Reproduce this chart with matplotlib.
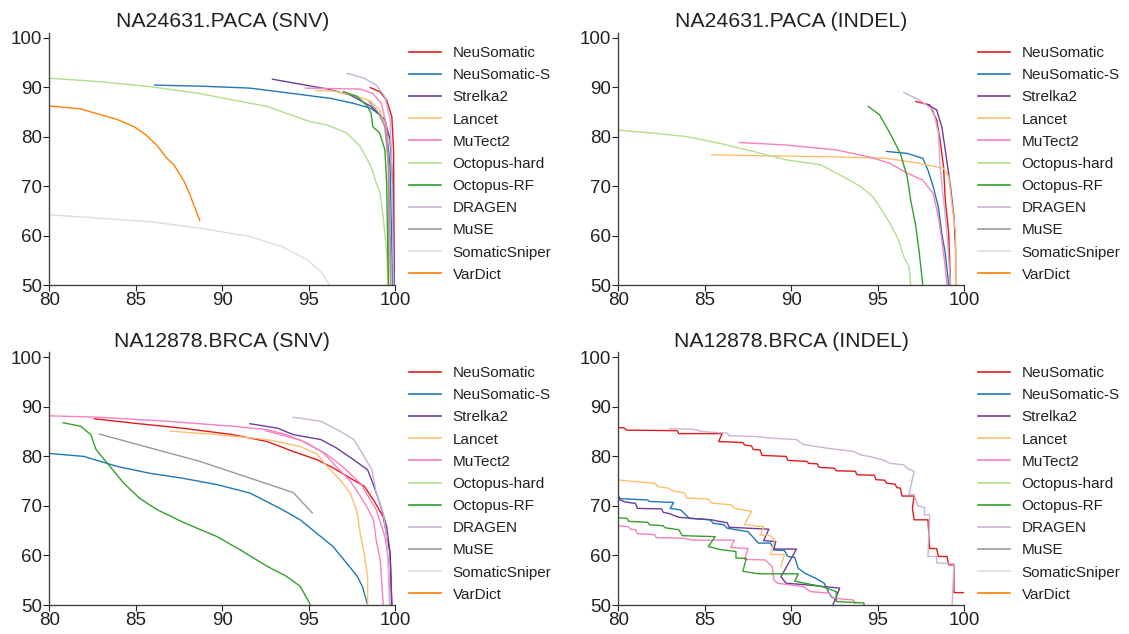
import matplotlib
matplotlib.use("Agg")
import matplotlib.pyplot as plt

plt.rcParams['font.family'] = ['Liberation Sans', 'DejaVu Sans']

methods = ["NeuSomatic", "NeuSomatic-S", "Strelka2", "Lancet", "MuTect2",
           "Octopus-hard", "Octopus-RF", "DRAGEN", "MuSE", "SomaticSniper", "VarDict"]
colors = {"NeuSomatic": "#e31a1c", "NeuSomatic-S": "#1f78b4", "Strelka2": "#6a3d9a",
          "Lancet": "#fdbf6f", "MuTect2": "#f781bf", "Octopus-hard": "#b2df8a",
          "Octopus-RF": "#33a02c", "DRAGEN": "#cab2d6", "MuSE": "#999999",
          "SomaticSniper": "#dddddd", "VarDict": "#ff7f00"}

titles = ["NA24631.PACA (SNV)", "NA24631.PACA (INDEL)",
          "NA12878.BRCA (SNV)", "NA12878.BRCA (INDEL)"]
xticks = [80, 85, 90, 95, 100]
yticks = [50, 60, 70, 80, 90, 100]

# ---------------- Panel 1: NA24631.PACA (SNV) ----------------
p1_neusomatic_x = [98.55, 99.1, 99.5, 99.8, 99.9, 99.94]
p1_neusomatic_y = [89.9, 89.1, 87.4, 84.0, 77.3, 50.0]
p1_neusomatic_s_x = [86.1, 88.7, 91.6, 94.1, 96.3, 97.6, 98.6, 99.1, 99.5, 99.7, 99.85]
p1_neusomatic_s_y = [90.4, 90.2, 89.8, 88.7, 87.7, 86.7, 85.7, 84.4, 81.3, 73.9, 50.0]
p1_strelka2_x = [92.9, 94.5, 96.1, 97.4, 98.6, 99.4, 99.7, 99.85, 99.93]
p1_strelka2_y = [91.6, 90.6, 89.6, 88.4, 86.1, 83.4, 79.3, 70.6, 50.0]
p1_lancet_x = [95.4, 96.4, 97.6, 98.6, 99.1, 99.4, 99.6, 99.7]
p1_lancet_y = [89.3, 89.2, 88.4, 87.1, 85.4, 82.0, 73.9, 50.0]
p1_mutect2_x = [94.8, 96.4, 98.0, 98.7, 99.2, 99.5, 99.6, 99.6]
p1_mutect2_y = [89.8, 89.7, 89.6, 88.7, 86.7, 82.0, 73.9, 50.0]
p1_octhard_x = [80.0, 82.9, 85.8, 88.7, 90.6, 92.6, 93.7, 95.1, 96.1, 97.2, 97.97,
                98.6, 98.9, 99.1, 99.3, 99.5, 99.6]
p1_octhard_y = [91.8, 91.1, 90.1, 88.7, 87.4, 86.1, 84.7, 83.0, 82.3, 80.7, 78.0,
                73.9, 70.6, 68.9, 63.8, 56.4, 50.0]
p1_octrf_x = [97.0, 97.8, 98.4, 98.6, 98.7, 99.1, 99.4, 99.5, 99.6]
p1_octrf_y = [89.1, 88.1, 86.1, 84.7, 82.0, 80.7, 77.3, 70.6, 50.0]
p1_dragen_x = [97.2, 98.2, 98.9, 99.4, 99.7, 99.8, 99.9]
p1_dragen_y = [92.8, 91.8, 90.4, 88.1, 83.4, 73.9, 50.0]
p1_muse_x = [98.5, 99.0, 99.4, 99.6, 99.7, 99.75]
p1_muse_y = [87.0, 85.0, 82.0, 75.0, 60.0, 50.0]
p1_sniper_x = [80.0, 82.9, 85.8, 88.7, 91.6, 93.5, 94.9, 95.7, 96.2]
p1_sniper_y = [64.2, 63.5, 62.8, 61.5, 59.8, 57.7, 55.1, 52.7, 50.0]
p1_vardict_x = [80.0, 81.8, 82.9, 83.9, 84.9, 85.6, 86.2, 86.8, 87.2, 87.8, 88.1, 88.7]
p1_vardict_y = [86.2, 85.6, 84.5, 83.5, 82.0, 80.3, 78.3, 75.6, 74.3, 70.9, 68.5, 63.0]

# ---------------- Panel 2: NA24631.PACA (INDEL) ----------------
p2_neusomatic_x = [97.2, 98.0, 98.4, 98.6, 98.8, 98.9, 99.1, 99.2]
p2_neusomatic_y = [87.1, 86.4, 83.4, 79.3, 73.9, 67.2, 60.4, 50.0]
p2_neusomatic_s_x = [95.5, 96.7, 97.6, 97.9, 98.2, 98.5, 98.7, 98.9, 99.1]
p2_neusomatic_s_y = [77.0, 76.6, 75.6, 73.2, 69.9, 65.8, 60.4, 56.4, 50.0]
p2_strelka2_x = [97.9, 98.4, 98.7, 98.9, 99.2, 99.4, 99.5, 99.5]
p2_strelka2_y = [86.4, 85.4, 82.0, 77.3, 69.9, 63.8, 57.1, 50.0]
p2_lancet_x = [85.4, 88.8, 92.6, 95.5, 97.4, 98.8, 99.1, 99.3, 99.5, 99.5]
p2_lancet_y = [76.3, 76.1, 75.9, 75.6, 74.6, 73.6, 71.9, 65.8, 60.4, 50.0]
p2_mutect2_x = [87.0, 89.7, 92.6, 94.5, 95.7, 96.7, 97.6, 98.2, 98.5, 98.7, 98.9, 99.0]
p2_mutect2_y = [78.8, 78.3, 77.3, 75.9, 74.6, 72.6, 71.2, 68.5, 63.8, 59.1, 53.7, 50.0]
p2_octhard_x = [80.0, 82.0, 83.95, 85.9, 87.8, 89.7, 91.7, 93.0, 94.0, 94.7, 95.1,
                95.7, 96.2, 96.5, 96.8, 96.9]
p2_octhard_y = [81.3, 80.7, 80.0, 78.6, 77.0, 75.3, 74.3, 71.9, 69.9, 67.9, 65.8,
                62.5, 59.1, 55.7, 53.7, 50.0]
p2_octrf_x = [94.45, 95.1, 95.7, 96.3, 96.7, 96.9, 97.2, 97.4, 97.6]
p2_octrf_y = [86.1, 84.4, 80.7, 76.6, 71.9, 67.2, 61.8, 56.4, 50.0]
p2_dragen_x = [96.5, 97.4, 98.2, 98.5, 98.6, 98.8, 99.0, 99.2]
p2_dragen_y = [88.9, 87.4, 85.4, 80.7, 73.9, 67.2, 60.4, 50.0]

# ---------------- Panel 3: NA12878.BRCA (SNV) ----------------
p3_neusomatic_x = [82.6, 84.9, 87.7, 90.6, 92.6, 94.1, 95.5, 96.4, 97.4, 98.2, 98.74,
                   99.3, 99.7, 99.8]
p3_neusomatic_y = [87.6, 86.7, 85.7, 84.4, 83.0, 81.0, 79.3, 77.7, 75.6, 74.0, 71.2,
                   67.8, 60.5, 50.0]
p3_neusomatic_s_x = [80.0, 82.0, 83.9, 85.8, 87.7, 89.7, 91.6, 93.5, 94.5, 95.45,
                     96.4, 97.2, 97.8, 98.1, 98.4]
p3_neusomatic_s_y = [80.6, 80.0, 78.0, 76.6, 75.6, 74.3, 72.6, 69.2, 67.2, 64.5,
                     61.8, 58.4, 55.8, 53.7, 50.0]
p3_strelka2_x = [91.6, 93.2, 94.1, 95.7, 96.6, 97.6, 98.4, 98.7, 99.1, 99.5, 99.7, 99.8]
p3_strelka2_y = [86.6, 85.7, 84.4, 83.4, 81.7, 79.3, 77.3, 74.6, 70.6, 65.9, 60.4, 50.0]
p3_lancet_x = [87.0, 89.7, 92.6, 94.5, 95.5, 96.05, 96.8, 97.4, 97.8, 97.97, 98.2, 98.4, 98.4]
p3_lancet_y = [85.1, 84.4, 83.4, 82.0, 80.4, 78.0, 75.3, 72.6, 68.6, 64.5, 60.4, 55.7, 50.0]
p3_mutect2_x = [80.0, 82.9, 86.8, 90.6, 92.6, 93.7, 94.9, 95.85, 96.6, 97.4, 97.97,
                98.4, 98.74, 98.9, 99.13, 99.3]
p3_mutect2_y = [88.2, 87.9, 87.1, 86.1, 85.4, 84.4, 82.7, 80.7, 77.9, 75.0, 72.0,
                69.5, 67.2, 63.0, 59.1, 50.0]
p3_mutect2b_x = [92.5, 94.5, 96.0, 97.0, 98.0, 98.9, 99.4, 99.6, 99.7]
p3_mutect2b_y = [85.2, 83.3, 80.5, 77.8, 74.5, 69.2, 63.8, 59.1, 50.0]
p3_octrf_x = [80.8, 81.8, 82.4, 82.7, 83.5, 84.3, 85.2, 86.2, 87.8, 89.7, 91.0, 92.6,
              93.7, 94.5, 95.1]
p3_octrf_y = [86.8, 86.1, 84.4, 81.4, 78.0, 74.6, 71.6, 69.3, 66.6, 63.8, 61.2, 57.8,
              55.8, 53.8, 50.0]
p3_dragen_x = [94.1, 95.7, 96.8, 97.6, 98.2, 98.65, 98.9, 99.3, 99.5, 99.6, 99.67]
p3_dragen_y = [87.9, 87.1, 85.1, 83.4, 80.0, 77.3, 72.6, 68.6, 63.9, 57.1, 50.0]
p3_muse_x = [82.9, 88.7, 94.1, 95.2]
p3_muse_y = [84.5, 79.0, 72.7, 68.6]

# ---------------- Panel 4: NA12878.BRCA (INDEL) ----------------
p4_neusomatic_x = [80, 80.3, 80.5, 83.4, 83.5, 86.0, 85.8, 87.2, 87.3, 87.7, 87.8, 88.2,
                   88.3, 89.7, 89.8, 90.9, 91.0, 91.5, 91.6, 92.5, 92.6, 93.7, 93.8,
                   94.8, 94.9, 95.4, 95.5, 96.0, 96.1, 96.3, 96.4, 97.1, 97.0, 97.1,
                   97.9, 98.0, 98.4, 98.5, 99.0, 99.1, 99.4, 99.4, 100]
p4_neusomatic_y = [85.8, 85.8, 85.3, 85.2, 84.6, 84.6, 83.0, 82.8, 82.3, 82.1, 81.4,
                   81.3, 80.2, 80.0, 79.2, 79.0, 78.6, 78.5, 77.8, 77.6, 77.1, 77.0,
                   76.3, 76.2, 75.3, 75.2, 74.6, 74.4, 73.7, 73.6, 72.0, 72.0, 69.5,
                   67.2, 67.2, 61.4, 61.4, 59.8, 59.8, 58.1, 58.1, 52.5, 52.5]
p4_neusomatic_s_x = [80, 81.7, 81.8, 83.2, 83.0, 83.6, 83.9, 84.1, 85.3, 85.5, 86.1,
                     86.3, 87.5, 88.1, 88.8, 89.0, 89.6, 89.8, 90.2, 90.4, 90.8, 91.4,
                     91.9, 92.1, 92.3, 92.6]
p4_neusomatic_s_y = [71.5, 71.2, 70.9, 70.7, 69.5, 69.2, 68.2, 67.5, 67.2, 66.5, 66.2,
                     65.5, 64.8, 62.5, 62.5, 61.1, 61.0, 59.8, 59.6, 57.4, 56.4, 55.4,
                     54.4, 53.0, 51.7, 51.0]
p4_strelka2_x = [80, 80.1, 80.4, 81.0, 81.1, 82.5, 82.6, 82.9, 83.5, 85.4, 85.8, 86.3,
                 86.4, 88.7, 88.4, 89.1, 89.0, 90.3, 89.4, 89.7, 91.1, 92.8, 92.4]
p4_strelka2_y = [72.2, 71.2, 70.8, 70.5, 69.5, 69.4, 68.7, 68.5, 67.7, 67.2, 66.9, 66.6,
                 65.7, 65.3, 63.0, 62.8, 61.3, 61.3, 55.7, 54.4, 54.0, 53.4, 50.0]
p4_lancet_x = [80, 81.0, 82.1, 82.3, 82.9, 83.1, 83.85, 83.95, 85.2, 85.4, 86.55, 86.7,
               87.7, 87.3, 88.4, 88.2, 88.7, 89.05, 88.8, 89.6, 89.4]
p4_lancet_y = [75.25, 74.9, 74.6, 73.9, 73.6, 73.1, 72.6, 71.6, 71.4, 70.6, 70.2, 69.5,
               68.9, 66.2, 65.8, 64.1, 64.1, 63.2, 60.2, 60.2, 57.7]
p4_mutect2_x = [80, 80.6, 80.7, 81.0, 81.1, 82.1, 82.2, 83.7, 84.3, 86.7, 86.5, 87.5,
                87.3, 88.5, 88.9, 89.0, 89.2, 90.7, 91.1, 92.2, 92.4, 93.6, 93.7]
p4_mutect2_y = [66.0, 65.8, 65.3, 65.2, 64.4, 64.2, 63.6, 63.5, 63.1, 63.1, 61.6, 61.4,
                59.2, 59.1, 57.7, 55.0, 54.4, 53.7, 52.7, 52.4, 51.4, 51.0, 50.4]
p4_octrf_x = [80, 80.5, 80.6, 81.7, 81.8, 82.6, 82.7, 83.5, 83.7, 85.6, 85.2, 85.9,
              86.8, 86.8, 87.4, 87.2, 88.1, 90.4, 90.2, 91.8, 92.6, 92.6, 94.2, 94.2]
p4_octrf_y = [67.6, 67.5, 66.9, 66.7, 66.2, 66.0, 65.6, 65.2, 64.0, 63.8, 61.8, 61.2,
              60.8, 59.5, 59.4, 56.8, 56.3, 56.3, 54.8, 53.7, 52.7, 50.7, 50.4, 50.0]
p4_dragen_x = [82.95, 84.3, 84.9, 86.3, 86.4, 88.0, 88.8, 90.3, 90.7, 92.0, 93.6, 94.0,
               94.5, 95.3, 95.7, 96.5, 96.7, 97.1, 96.8, 97.1, 97.3, 97.7, 97.7, 98.0,
               97.9, 98.4, 98.4, 99.4, 99.3]
p4_dragen_y = [85.6, 85.5, 85.0, 84.7, 84.2, 84.0, 83.7, 83.4, 82.4, 81.7, 81.0, 80.3,
               80.0, 79.3, 78.6, 78.3, 77.6, 77.0, 72.3, 72.3, 70.0, 69.7, 68.2, 68.2,
               59.8, 59.8, 58.5, 58.3, 50.0]

panels = [
    [("NeuSomatic", p1_neusomatic_x, p1_neusomatic_y),
     ("NeuSomatic-S", p1_neusomatic_s_x, p1_neusomatic_s_y),
     ("Strelka2", p1_strelka2_x, p1_strelka2_y),
     ("Lancet", p1_lancet_x, p1_lancet_y),
     ("MuTect2", p1_mutect2_x, p1_mutect2_y),
     ("Octopus-hard", p1_octhard_x, p1_octhard_y),
     ("Octopus-RF", p1_octrf_x, p1_octrf_y),
     ("DRAGEN", p1_dragen_x, p1_dragen_y),
     ("MuSE", p1_muse_x, p1_muse_y),
     ("SomaticSniper", p1_sniper_x, p1_sniper_y),
     ("VarDict", p1_vardict_x, p1_vardict_y)],
    [("NeuSomatic", p2_neusomatic_x, p2_neusomatic_y),
     ("NeuSomatic-S", p2_neusomatic_s_x, p2_neusomatic_s_y),
     ("Strelka2", p2_strelka2_x, p2_strelka2_y),
     ("Lancet", p2_lancet_x, p2_lancet_y),
     ("MuTect2", p2_mutect2_x, p2_mutect2_y),
     ("Octopus-hard", p2_octhard_x, p2_octhard_y),
     ("Octopus-RF", p2_octrf_x, p2_octrf_y),
     ("DRAGEN", p2_dragen_x, p2_dragen_y)],
    [("NeuSomatic", p3_neusomatic_x, p3_neusomatic_y),
     ("NeuSomatic-S", p3_neusomatic_s_x, p3_neusomatic_s_y),
     ("Strelka2", p3_strelka2_x, p3_strelka2_y),
     ("Lancet", p3_lancet_x, p3_lancet_y),
     ("MuTect2", p3_mutect2_x, p3_mutect2_y),
     ("MuTect2", p3_mutect2b_x, p3_mutect2b_y),
     ("Octopus-RF", p3_octrf_x, p3_octrf_y),
     ("DRAGEN", p3_dragen_x, p3_dragen_y),
     ("MuSE", p3_muse_x, p3_muse_y)],
    [("NeuSomatic", p4_neusomatic_x, p4_neusomatic_y),
     ("NeuSomatic-S", p4_neusomatic_s_x, p4_neusomatic_s_y),
     ("Strelka2", p4_strelka2_x, p4_strelka2_y),
     ("Lancet", p4_lancet_x, p4_lancet_y),
     ("MuTect2", p4_mutect2_x, p4_mutect2_y),
     ("Octopus-RF", p4_octrf_x, p4_octrf_y),
     ("DRAGEN", p4_dragen_x, p4_dragen_y)],
]

W, H = 1129, 634
fig = plt.figure(figsize=(W / 100, H / 100), dpi=100)

ax_rects = [
    (49.3 / W, 1 - 285 / H, 346 / W, 252.3 / H),
    (618.3 / W, 1 - 285 / H, 346 / W, 252.3 / H),
    (49.3 / W, 1 - 605 / H, 346 / W, 252.6 / H),
    (618.3 / W, 1 - 605 / H, 346 / W, 252.6 / H),
]
legend_anchor = [(409 / W, 1 - 46 / H), (978 / W, 1 - 46 / H),
                 (409 / W, 1 - 366 / H), (978 / W, 1 - 366 / H)]

text_color = "#222222"
spine_color = "#444444"

for i, rect in enumerate(ax_rects):
    ax = fig.add_axes(rect)
    for name, xs, ys in panels[i]:
        ax.plot(xs, ys, color=colors[name], lw=1.0, solid_joinstyle='round')
    ax.set_xlim(80, 100)
    ax.set_ylim(50, 101)
    ax.set_xticks(xticks)
    ax.set_yticks(yticks)
    ax.tick_params(axis='both', labelsize=13.5, colors=text_color, length=4,
                   width=0.8, pad=1, direction='out')
    for s in ("top", "right"):
        ax.spines[s].set_visible(False)
    for s in ("left", "bottom"):
        ax.spines[s].set_color(spine_color)
        ax.spines[s].set_linewidth(1.0)
    ax.set_title(titles[i], fontsize=15.3, color=text_color, pad=4)
    handles = [plt.Line2D([], [], color=colors[m], lw=1.2) for m in methods]
    ax.legend(handles, methods, loc='upper left', bbox_to_anchor=legend_anchor[i],
              bbox_transform=fig.transFigure, frameon=False, fontsize=11,
              handlelength=2.1, handletextpad=0.75, labelspacing=0.535,
              borderpad=0, borderaxespad=0, labelcolor=text_color)

fig.savefig("out.png", dpi=100)
